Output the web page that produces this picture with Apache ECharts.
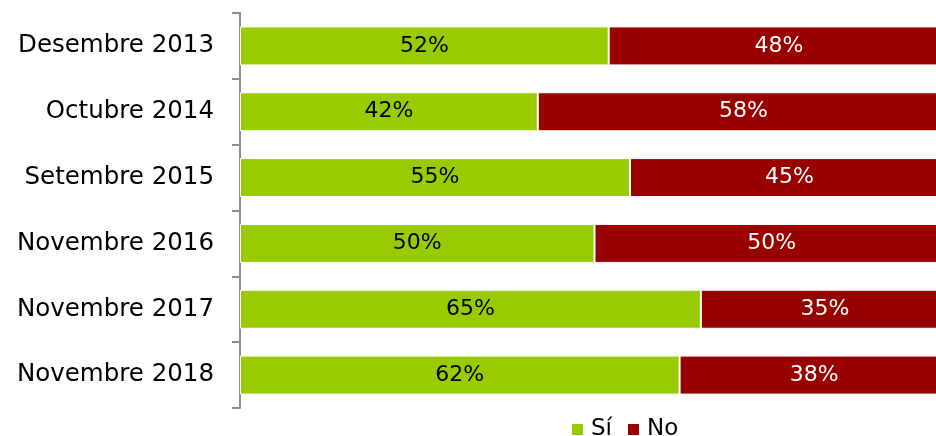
<!DOCTYPE html>
<html>
<head>
<meta charset="utf-8">
<script src="https://cdn.jsdelivr.net/npm/echarts@6/dist/echarts.min.js"></script>
<style>
  html, body { margin: 0; padding: 0; background: #fff; }
  #chart { width: 936px; height: 436px; }
</style>
</head>
<body>
<div id="chart"></div>
<script>
// categories, top to bottom as shown
var categories = ["Desembre 2013", "Octubre 2014", "Setembre 2015", "Novembre 2016", "Novembre 2017", "Novembre 2018"];
var siValues = [52, 42, 55, 50, 65, 62];
var noValues = [48, 58, 45, 50, 35, 38];

var fontFam = "'Century Gothic', 'DejaVu Sans', sans-serif";
var chart = echarts.init(document.getElementById("chart"));

var options = {
  backgroundColor: "#fff",
  animation: false,
  grid: {
    left: 240,
    top: 13,
    width: 709,
    bottom: 28,
    containLabel: false,
    outerBoundsMode: "none"
  },
  legend: {
    top: 413,
    left: 567,
    icon: "rect",
    itemWidth: 11,
    itemHeight: 11,
    itemGap: 16,
    itemStyle: { borderWidth: 0 },
    textStyle: { fontFamily: fontFam, fontSize: 23, color: "#000", padding: [0, 0, 0, 3] },
    data: ["Sí", "No"]
  },
  xAxis: {
    type: "value",
    min: 0,
    max: 100,
    show: false
  },
  yAxis: {
    type: "category",
    inverse: true,
    offset: 2,
    data: categories,
    axisLine: { show: true, lineStyle: { color: "#8c8c8c", width: 2 } },
    axisTick: { show: true, length: 8, lineStyle: { color: "#8c8c8c", width: 2 } },
    axisLabel: { fontFamily: fontFam, fontSize: 24.5, color: "#000", margin: 24 },
    splitLine: { show: false }
  },
  series: [
    {
      name: "Sí",
      type: "bar",
      stack: "total",
      barWidth: 39,
      itemStyle: { color: "#99cc00", borderColor: "#fff", borderWidth: 1 },
      label: {
        show: true,
        position: "inside",
        formatter: "{c}%",
        fontFamily: fontFam,
        fontSize: 22,
        color: "#000"
      },
      data: siValues
    },
    {
      name: "No",
      type: "bar",
      stack: "total",
      barWidth: 39,
      itemStyle: { color: "#990000", borderColor: "#fff", borderWidth: 1 },
      label: {
        show: true,
        position: "inside",
        formatter: "{c}%",
        fontFamily: fontFam,
        fontSize: 22,
        color: "#fff"
      },
      data: noValues
    }
  ]
};
chart.setOption(options);
</script>
</body>
</html>
